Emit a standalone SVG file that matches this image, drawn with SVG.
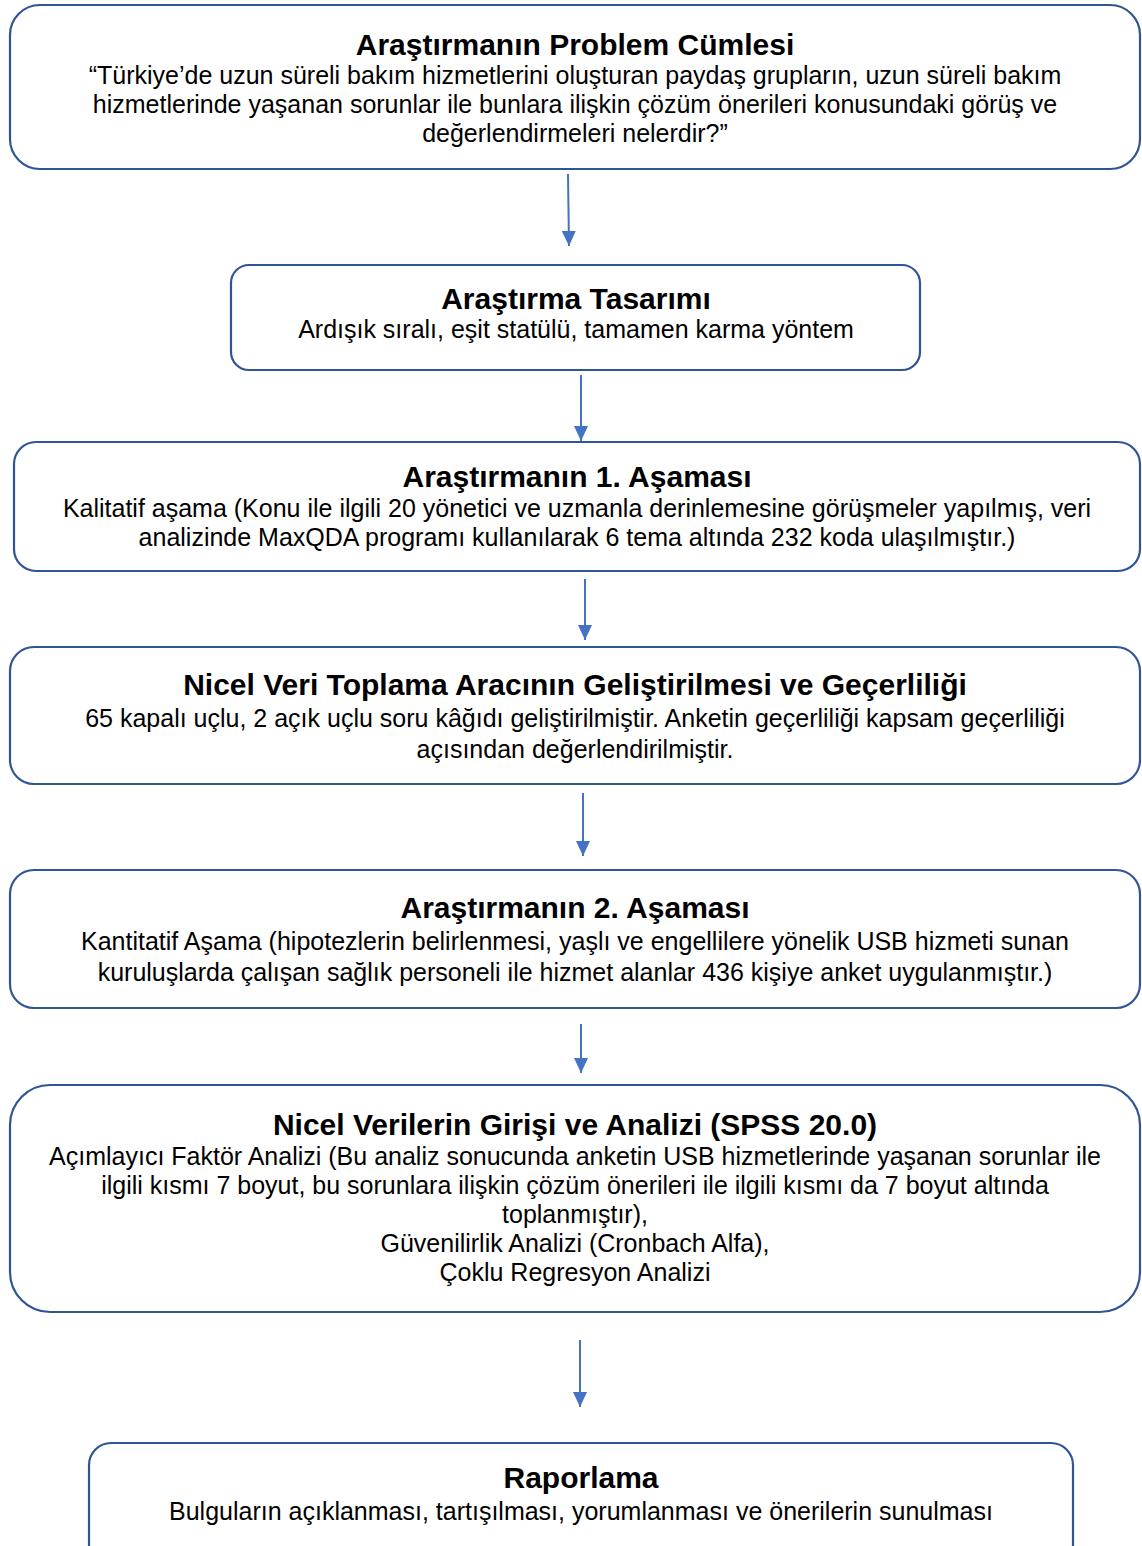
<svg xmlns="http://www.w3.org/2000/svg" width="1142" height="1546" viewBox="0 0 1142 1546">
<defs>
<style>
.box{fill:#fff;stroke:#2F5597;stroke-width:2.2}
.t{font-family:"Liberation Sans",Arial,sans-serif;font-weight:bold;font-size:30px;fill:#000;text-anchor:middle}
.b{font-family:"Liberation Sans",Arial,sans-serif;font-size:25px;fill:#000;text-anchor:middle}
.c{stroke:#4472C4;stroke-width:2;fill:none;marker-end:url(#ah)}
</style>
<marker id="ah" viewBox="0 0 15 14" refX="15" refY="7" markerWidth="15" markerHeight="14" orient="auto" markerUnits="userSpaceOnUse">
<path d="M0,0 L15,7 L0,14 Z" fill="#4472C4"/>
</marker>
</defs>
<rect width="1142" height="1546" fill="#fff"/>
<g id="n1">
<rect class="box" x="10" y="5" width="1130" height="164" rx="30"/>
<text class="t" x="575" y="55">Araştırmanın Problem Cümlesi</text>
<text class="b" x="575" y="84">“Türkiye’de uzun süreli bakım hizmetlerini oluşturan paydaş grupların, uzun süreli bakım</text>
<text class="b" x="575" y="113">hizmetlerinde yaşanan sorunlar ile bunlara ilişkin çözüm önerileri konusundaki görüş ve</text>
<text class="b" x="575" y="142">değerlendirmeleri nelerdir?”</text>
</g>
<g id="n2">
<rect class="box" x="231" y="265" width="689" height="105" rx="18"/>
<text class="t" x="576" y="309">Araştırma Tasarımı</text>
<text class="b" x="576" y="338">Ardışık sıralı, eşit statülü, tamamen karma yöntem</text>
</g>
<g id="n3">
<rect class="box" x="14" y="442" width="1126" height="129" rx="22"/>
<text class="t" x="577" y="487">Araştırmanın 1. Aşaması</text>
<text class="b" x="577" y="517">Kalitatif aşama (Konu ile ilgili 20 yönetici ve uzmanla derinlemesine görüşmeler yapılmış, veri</text>
<text class="b" x="577" y="546">analizinde MaxQDA programı kullanılarak 6 tema altında 232 koda ulaşılmıştır.)</text>
</g>
<g id="n4">
<rect class="box" x="10" y="647" width="1130" height="137" rx="24"/>
<text class="t" x="575" y="695">Nicel Veri Toplama Aracının Geliştirilmesi ve Geçerliliği</text>
<text class="b" x="575" y="727">65 kapalı uçlu, 2 açık uçlu soru kâğıdı geliştirilmiştir. Anketin geçerliliği kapsam geçerliliği</text>
<text class="b" x="575" y="758">açısından değerlendirilmiştir.</text>
</g>
<g id="n5">
<rect class="box" x="10" y="870" width="1130" height="138" rx="24"/>
<text class="t" x="575" y="918">Araştırmanın 2. Aşaması</text>
<text class="b" x="575" y="950">Kantitatif Aşama (hipotezlerin belirlenmesi, yaşlı ve engellilere yönelik USB hizmeti sunan</text>
<text class="b" x="575" y="981">kuruluşlarda çalışan sağlık personeli ile hizmet alanlar 436 kişiye anket uygulanmıştır.)</text>
</g>
<g id="n6">
<rect class="box" x="10" y="1085" width="1130" height="227" rx="40"/>
<text class="t" x="575" y="1135">Nicel Verilerin Girişi ve Analizi (SPSS 20.0)</text>
<text class="b" x="575" y="1165">Açımlayıcı Faktör Analizi (Bu analiz sonucunda anketin USB hizmetlerinde yaşanan sorunlar ile</text>
<text class="b" x="575" y="1194">ilgili kısmı 7 boyut, bu sorunlara ilişkin çözüm önerileri ile ilgili kısmı da 7 boyut altında</text>
<text class="b" x="575" y="1223">toplanmıştır),</text>
<text class="b" x="575" y="1252">Güvenilirlik Analizi (Cronbach Alfa),</text>
<text class="b" x="575" y="1281">Çoklu Regresyon Analizi</text>
</g>
<g id="n7">
<rect class="box" x="89" y="1443" width="984" height="130" rx="22"/>
<text class="t" x="581" y="1488">Raporlama</text>
<text class="b" x="581" y="1520">Bulguların açıklanması, tartışılması, yorumlanması ve önerilerin sunulması</text>
</g>
<g id="connectors">
<line class="c" x1="568" y1="174" x2="569" y2="246"/>
<line class="c" x1="581" y1="375" x2="581" y2="441"/>
<line class="c" x1="585" y1="579" x2="585" y2="640"/>
<line class="c" x1="583" y1="793" x2="583" y2="856"/>
<line class="c" x1="581" y1="1024" x2="581" y2="1073"/>
<line class="c" x1="580" y1="1340" x2="580" y2="1407"/>
</g>
</svg>
